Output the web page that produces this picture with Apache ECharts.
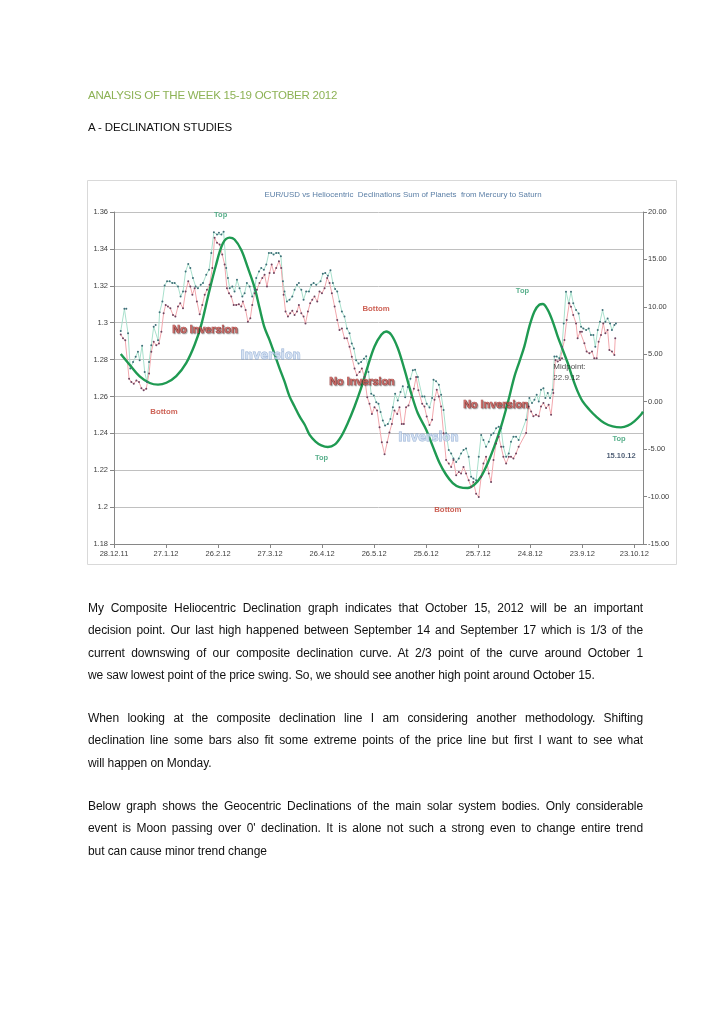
<!DOCTYPE html>
<html><head><meta charset="utf-8">
<script src="https://cdn.jsdelivr.net/npm/echarts@6/dist/echarts.min.js"></script>
<style>
html,body{margin:0;padding:0;background:#fff;}
#page{position:relative;width:720px;height:1018px;overflow:hidden;font-family:"Liberation Sans",Arial,sans-serif;}
#chart{position:absolute;left:0;top:0;width:720px;height:1018px;}
.t{position:absolute;left:88px;white-space:nowrap;line-height:14px;z-index:2;}
.h1{top:88px;color:#8db255;font-size:11.5px;letter-spacing:-0.25px;}
.h2{top:120px;color:#111;font-size:11.5px;letter-spacing:-0.12px;}
.p{position:absolute;left:88px;width:555px;font-size:12px;color:#111;letter-spacing:-0.08px;z-index:2;}
.p div{height:22.4px;line-height:22.4px;}
.j{text-align:justify;text-align-last:justify;}
</style></head>
<body>
<div id="page">
<div id="chart"></div>
<div class="t h1">ANALYSIS OF THE WEEK 15-19 OCTOBER 2012</div>
<div class="t h2">A - DECLINATION STUDIES</div>
<div class="p" style="top:596.8px">
<div class="j">My Composite Heliocentric Declination graph indicates that October 15, 2012 will be an important</div>
<div class="j">decision point. Our last high happened between September 14 and September 17 which is 1/3 of the</div>
<div class="j">current downswing of our composite declination curve. At 2/3 point of the curve around October 1</div>
<div>we saw lowest point of the price swing. So, we should see another high point around October 15.</div>
</div>
<div class="p" style="top:706.8px">
<div class="j">When looking at the composite declination line I am considering another methodology. Shifting</div>
<div class="j">declination line some bars also fit some extreme points of the price line but first I want to see what</div>
<div>will happen on Monday.</div>
</div>
<div class="p" style="top:794.8px">
<div class="j">Below graph shows the Geocentric Declinations of the main solar system bodies. Only considerable</div>
<div class="j">event is Moon passing over 0' declination. It is alone not such a strong even to change entire trend</div>
<div>but can cause minor trend change</div>
</div>
</div>
<script>
// ---- data (x = days since 28.12.2011) ----
const xTickLabels = ['28.12.11','27.1.12','26.2.12','27.3.12','26.4.12','26.5.12','25.6.12','25.7.12','24.8.12','23.9.12','23.10.12'];

const cyanDays = [3.9,6.0,7.1,8.1,9.4,11.0,12.5,13.8,14.8,16.2,17.7,19.0,20.2,21.5,22.9,24.0,25.4,26.3,27.9,29.2,30.6,32.1,33.6,35.0,36.9,38.4,39.8,41.3,42.8,44.0,45.5,47.1,48.4,50.0,51.3,53.2,54.8,56.1,57.6,
 59.4,60.5,61.9,63.2,64.7,65.7,66.7,68.2,69.5,70.9,72.4,74.0,75.3,76.6,78.2,79.7,81.1,82.0,83.6,84.9,86.4,87.8,89.3,90.7,92.0,93.5,94.9,96.2,97.4,98.3,99.7,101.2,102.8,104.1,105.5,106.6,108.0,109.3,110.8,112.4,113.7,115.1,116.6,
 119.1,120.4,121.8,123.3,124.8,126.2,127.5,128.7,130.0,131.4,132.9,134.3,135.8,137.1,138.3,139.6,141.0,142.5,144.1,145.4,146.7,148.3,149.8,151.2,152.5,153.7,155.0,156.3,157.9,159.4,160.8,162.1,163.6,165.2,166.5,167.9,169.4,170.9,172.3,173.6,175.2,
 177.7,179.0,180.3,181.9,183.4,184.2,185.7,187.3,188.6,190.0,191.5,193.0,194.4,195.7,197.3,198.8,200.1,201.5,203.0,204.5,205.9,207.2,208.8,210.3,211.7,213.0,214.5,216.1,217.4,218.8,220.3,221.8,223.2,224.5,226.1,227.6,228.9,230.3,231.8,233.3,
 237.6,239.5,241.0,242.4,243.7,244.9,246.2,247.6,248.7,250.1,251.4,252.9,253.9,255.2,256.8,258.3,259.3,260.6,262.2,263.5,264.8,266.4,267.9,269.3,270.6,272.2,273.7,275.0,276.4,277.5,278.9,280.2,281.7,283.3,284.6,286.0,287.1,288.5,289.4];
const cyanPrice = [1.2955,1.3075,1.3075,1.2942,1.2751,1.2787,1.2815,1.2842,1.2796,1.2875,1.2733,1.2678,1.2787,1.2878,1.2978,1.2987,1.2905,1.3056,1.3115,1.3202,1.3224,1.3224,1.3215,1.3215,1.3196,1.3142,1.3169,1.3278,1.3318,1.3296,1.3242,1.3196,1.3187,1.3205,1.3215,1.3260,1.3287,1.3378,1.3490,
 1.3478,1.3487,1.3478,1.3493,1.3296,1.3242,1.3187,1.3196,1.3169,1.3233,1.3187,1.3142,1.3160,1.3215,1.3196,1.3142,1.3178,1.3242,1.3278,1.3296,1.3287,1.3315,1.3378,1.3378,1.3369,1.3378,1.3378,1.3360,1.3224,1.3169,1.3115,1.3124,1.3142,1.3178,1.3205,1.3215,1.3178,1.3124,1.3169,1.3169,1.3205,1.3215,1.3205,
 1.3224,1.3265,1.3269,1.3255,1.3284,1.3215,1.3182,1.3169,1.3115,1.3060,1.3033,1.2969,1.2942,1.2887,1.2860,1.2796,1.2778,1.2787,1.2805,1.2818,1.2733,1.2615,1.2605,1.2569,1.2560,1.2515,1.2469,1.2442,1.2451,1.2478,1.2542,1.2615,1.2578,1.2624,1.2655,1.2596,1.2651,1.2696,1.2742,1.2745,1.2705,
 1.2600,1.2600,1.2560,1.2540,1.2591,1.2691,1.2682,1.2664,1.2609,1.2527,1.2400,1.2309,1.2291,1.2264,1.2245,1.2264,1.2291,1.2309,1.2318,1.2273,1.2164,1.2155,1.2145,1.2273,1.2391,1.2364,1.2327,1.2355,1.2391,1.2400,1.2427,1.2436,1.2427,1.2327,1.2273,1.2291,1.2355,1.2382,1.2382,1.2364,
 1.2474,1.2591,1.2564,1.2582,1.2609,1.2573,1.2636,1.2645,1.2591,1.2618,1.2591,1.2636,1.2816,1.2816,1.2807,1.2870,1.2996,1.3168,1.3105,1.3168,1.3105,1.3068,1.3050,1.2978,1.2969,1.2960,1.2969,1.2933,1.2933,1.2870,1.2960,1.3005,1.3068,1.3005,1.3023,1.2996,1.2960,1.2987,1.2996];

const pinkDays = [3.9,5.2,6.5,8.7,10.0,11.4,12.9,14.4,15.8,17.1,18.6,20.2,21.5,22.9,24.4,25.9,27.3,28.6,29.8,31.1,32.5,34.0,35.4,36.9,38.2,39.8,41.3,42.8,44.0,45.2,46.5,47.8,49.4,50.9,52.3,53.6,55.1,56.7,
 58.0,59.4,60.9,62.4,63.8,65.1,66.3,67.6,69.0,70.5,72.0,73.4,74.3,75.9,77.2,78.6,79.7,81.1,82.4,83.9,85.5,86.8,88.2,89.7,90.9,92.2,93.5,95.1,96.4,97.8,98.9,100.3,101.6,102.8,104.1,105.5,106.6,108.0,109.3,110.4,111.8,113.1,114.3,115.6,
 117.2,118.5,119.9,121.4,122.9,124.3,125.6,127.2,128.7,130.0,131.4,132.9,134.3,135.8,137.1,138.7,140.0,141.6,142.9,144.4,146.0,147.3,148.7,150.2,151.7,153.1,154.4,156.0,157.5,158.8,160.2,161.7,163.3,164.6,165.9,167.1,168.4,169.8,171.3,172.9,174.2,175.5,
 177.7,179.0,180.3,181.9,183.4,184.8,186.1,187.3,188.6,190.0,191.5,193.0,194.4,195.7,197.3,198.8,200.1,201.5,203.0,204.5,205.9,207.2,208.8,210.3,211.7,213.0,214.5,216.1,217.4,218.8,220.3,221.8,223.2,224.5,226.1,227.6,228.9,230.3,231.8,233.3,
 237.6,239.1,240.5,241.8,243.3,244.9,246.2,247.6,249.1,250.6,252.0,253.3,254.5,255.8,257.2,258.3,259.7,261.0,262.5,263.5,264.8,266.4,267.3,268.7,269.8,271.2,272.5,274.1,275.6,276.9,278.3,279.4,280.8,282.1,283.3,284.6,285.6,287.1,288.5,289.0];
const pinkPrice = [1.2936,1.2915,1.2905,1.2696,1.2678,1.2669,1.2687,1.2678,1.2645,1.2633,1.2642,1.2724,1.2842,1.2896,1.2878,1.2887,1.2951,1.3051,1.3096,1.3087,1.3078,1.3042,1.3033,1.3087,1.3105,1.3078,1.3169,1.3224,1.3196,1.3151,1.3187,1.3115,1.3045,1.3096,1.3151,1.3178,1.3205,1.3296,
 1.3460,1.3433,1.3424,1.3369,1.3315,1.3187,1.3160,1.3142,1.3096,1.3096,1.3100,1.3087,1.3115,1.3069,1.3005,1.3024,1.3096,1.3160,1.3178,1.3215,1.3242,1.3260,1.3196,1.3269,1.3315,1.3269,1.3296,1.3333,1.3296,1.3151,1.3060,1.3033,1.3051,1.3064,1.3042,1.3060,1.3096,1.3051,1.3033,1.2996,1.3060,1.3105,1.3124,1.3142,
 1.3115,1.3169,1.3160,1.3187,1.3242,1.3215,1.3160,1.3087,1.3015,1.2960,1.2969,1.2915,1.2915,1.2869,1.2815,1.2751,1.2715,1.2733,1.2751,1.2705,1.2596,1.2560,1.2505,1.2542,1.2524,1.2433,1.2351,1.2287,1.2351,1.2405,1.2451,1.2524,1.2505,1.2542,1.2451,1.2451,1.2542,1.2551,1.2596,1.2642,1.2705,1.2633,
 1.2560,1.2545,1.2491,1.2445,1.2473,1.2582,1.2636,1.2600,1.2545,1.2400,1.2255,1.2236,1.2218,1.2255,1.2173,1.2191,1.2182,1.2218,1.2182,1.2145,1.2109,1.2136,1.2073,1.2055,1.2164,1.2236,1.2273,1.2182,1.2136,1.2255,1.2345,1.2382,1.2327,1.2273,1.2236,1.2273,1.2273,1.2264,1.2291,1.2327,
 1.2402,1.2546,1.2519,1.2492,1.2501,1.2492,1.2546,1.2564,1.2537,1.2555,1.2501,1.2618,1.2798,1.2789,1.2798,1.2807,1.2906,1.3014,1.3105,1.3086,1.3041,1.2996,1.2915,1.2951,1.2951,1.2888,1.2843,1.2834,1.2843,1.2807,1.2807,1.2897,1.2933,1.2996,1.2942,1.2960,1.2852,1.2843,1.2825,1.2915];

const declDays = [3.9,9.0,14.8,20.6,25.4,30.2,35.9,41.7,46.5,50.3,54.2,58.5,62.8,66.7,69.5,73.4,77.2,81.1,83.9,86.8,89.7,92.6,95.4,98.3,101.2,104.1,107.0,109.9,112.8,116.2,119.5,123.3,127.2,131.0,134.8,138.7,142.5,146.3,150.2,154.1,156.9,159.8,163.6,167.5,171.3,175.1,180.0,183.8,187.7,191.5,195.3,199.2,204.0,207.8,211.7,215.5,219.3,223.2,227.0,230.9,233.7,236.6,239.5,242.4,245.2,247.2,250.0,252.9,255.8,258.7,261.6,264.4,267.3,270.2,274.1,277.9,282.7,287.5,292.3,296.2,300.0,303.8,305.0];
const declSum = [5.03,3.9,2.67,1.97,1.8,2.0,2.7,4.1,6.0,8.1,11.1,14.2,16.7,17.3,17.1,16.0,14.1,12.0,9.9,7.8,6.5,5.0,3.55,2.14,0.56,-0.5,-1.55,-2.4,-3.5,-4.2,-4.6,-4.78,-4.53,-3.65,-2.24,-0.5,1.45,3.73,5.83,7.07,7.41,7.07,5.66,3.38,0.92,-1.19,-2.95,-4.71,-6.46,-7.7,-8.57,-9.0,-9.1,-8.75,-7.87,-6.46,-4.71,-2.6,-0.14,2.67,4.2,5.83,7.94,9.52,10.23,10.3,9.7,8.47,6.89,5.48,4.08,2.5,1.09,0.03,-0.84,-1.55,-2.24,-2.6,-2.7,-2.53,-2.07,-1.37,-1.05];

const annoText  = ['Top','No Inversion','Inversion','Bottom','Top','Bottom','No Inversion','Inversion','No Inversion','Bottom','Top','Midpoint:\n22.9.12','Top','15.10.12'];
const annoDay   = [61.5,52.5,90.3,28.8,119.7,151.1,143.0,181.3,220.2,192.5,235.5,253.3,291.2,292.3];
const annoPrice = [1.3582,1.2962,1.2817,1.2516,1.2269,1.3074,1.2677,1.2376,1.2551,1.1984,1.3170,1.2729,1.2369,1.2279];
const annoKind  = ['top','noinv','inv','bottom','top','bottom','noinv','inv','noinv','bottom','top','mid','top','date'];

// ---- styles ----
const FONT = '"Liberation Sans", Arial, sans-serif';
const kindStyle = {
  top:   {fontSize:7.5, fontWeight:'bold', color:'#2e9b6e', fontFamily:FONT},
  bottom:{fontSize:7.8, fontWeight:'bold', color:'#c0392b', fontFamily:FONT},
  noinv: {fontSize:10.8, fontWeight:'bold', color:'#cf5f5a', fontFamily:FONT, textBorderColor:'#7d2020', textBorderWidth:0.7, textShadowColor:'rgba(0,0,0,0.35)', textShadowBlur:1, textShadowOffsetX:1, textShadowOffsetY:1},
  inv:   {fontSize:11.5, fontWeight:'bold', color:'#cddcf0', fontFamily:'"DejaVu Sans", sans-serif', textBorderColor:'#7f9fcc', textBorderWidth:0.8},
  mid:   {fontSize:8, color:'#222', fontFamily:FONT, align:'left', lineHeight:11},
  date:  {fontSize:7.5, fontWeight:'bold', color:'#1f3350', fontFamily:FONT}
};

const zip = (a, b) => a.map((v, i) => [v, b[i]]);

const chart = echarts.init(document.getElementById('chart'), null, {renderer:'canvas'});
const axisCol = '#868686';
const option = {
  animation:false,
  backgroundColor:'transparent',
  graphic:[
    {type:'rect', shape:{x:87.5, y:180.5, width:589, height:384}, style:{fill:'none', stroke:'#d9d9d9', lineWidth:1}, silent:true},
    {type:'text', x:403, y:195, style:{text:'EUR/USD vs Heliocentric  Declinations Sum of Planets  from Mercury to Saturn', fill:'#5b7fa6', font:'7.9px "Liberation Sans", Arial, sans-serif', textAlign:'center', textVerticalAlign:'middle'}, silent:true}
  ],
  grid:{left:114, right:77, top:212, bottom:474},
  xAxis:{type:'value', min:0, max:305, interval:30,
    axisLine:{onZero:false, lineStyle:{color:axisCol}}, axisTick:{length:4, lineStyle:{color:axisCol}},
    axisLabel:{formatter:v => (v % 30 === 0 ? xTickLabels[v/30] : ''), color:'#404040', fontSize:7.5, margin:6, fontFamily:FONT, showMaxLabel:false},
    splitLine:{show:false}},
  yAxis:[
    {type:'value', min:1.18, max:1.36, interval:0.02, position:'left',
      axisLine:{show:true, onZero:false, lineStyle:{color:axisCol}}, axisTick:{show:true, length:4, lineStyle:{color:axisCol}},
      axisLabel:{formatter:v => String(+v.toFixed(2)), color:'#404040', fontSize:7.5, margin:6, fontFamily:FONT},
      splitLine:{show:true, lineStyle:{color:'#c0c0c0', width:1}}},
    {type:'value', min:-15, max:20, interval:5, position:'right',
      axisLine:{show:true, onZero:false, lineStyle:{color:axisCol}}, axisTick:{show:true, length:4, lineStyle:{color:axisCol}},
      axisLabel:{formatter:v => v.toFixed(2), color:'#404040', fontSize:7.5, margin:5, fontFamily:FONT},
      splitLine:{show:false}}
  ],
  series:[
    {type:'line', name:'EUR/USD A', yAxisIndex:0, data:zip(cyanDays, cyanPrice), showAllSymbol:true,
      symbol:'circle', symbolSize:2, itemStyle:{color:'#3f6f78'}, lineStyle:{color:'#a8e0cc', width:1}},
    {type:'line', name:'EUR/USD B', yAxisIndex:0, data:zip(pinkDays, pinkPrice), showAllSymbol:true,
      symbol:'circle', symbolSize:2, itemStyle:{color:'#6e4560'}, lineStyle:{color:'#f2a7ad', width:1}},
    {type:'line', name:'Declination sum', yAxisIndex:1, data:zip(declDays, declSum), smooth:0.35,
      symbol:'none', lineStyle:{color:'#1f9a52', width:2.4}},
    {type:'scatter', name:'notes', yAxisIndex:0, symbolSize:0, silent:true, clip:false, z:10,
      data:annoText.map((t, i) => ({value:[annoDay[i], annoPrice[i]],
        label:Object.assign({show:true, position:'inside', formatter:t, verticalAlign:'middle'}, kindStyle[annoKind[i]])}))}
  ]
};
chart.setOption(option);
</script>
</body></html>
